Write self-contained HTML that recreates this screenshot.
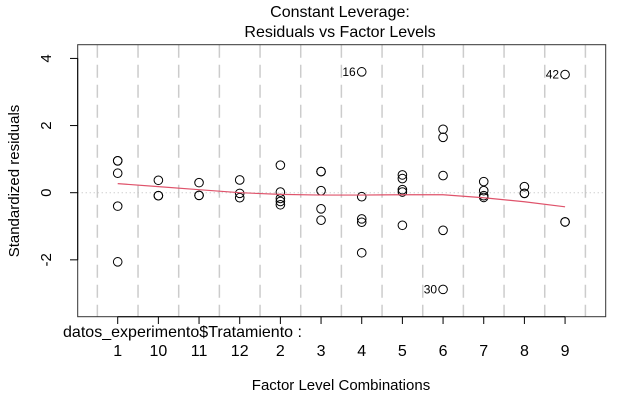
<!DOCTYPE html>
<html><head><meta charset="utf-8"><style>
html,body{margin:0;padding:0;background:#fff;}
svg{display:block;font-family:"Liberation Sans",Arial,sans-serif;}
</style></head><body>
<svg id="chart" width="618" height="406" viewBox="0 0 618 406">
<g id="grid"></g>
<g id="marks"></g>
<rect x="77.7" y="44.7" width="528" height="272" fill="none" stroke="#333" stroke-width="1"/>
<g id="axes"></g>
<text x="340" y="17" text-anchor="middle" font-size="16">Constant Leverage:</text>
<text x="340" y="37" text-anchor="middle" font-size="16">Residuals vs Factor Levels</text>
<text x="341" y="390" text-anchor="middle" font-size="15">Factor Level Combinations</text>
<text transform="translate(19,181) rotate(-90)" text-anchor="middle" font-size="15">Standardized residuals</text>
<text x="63" y="337" font-size="16" textLength="239">datos_experimento$Tratamiento :</text>
</svg>
<script>
const levels = ["1","10","11","12","2","3","4","5","6","7","8","9"];
const residuals = [
  [0.95,0.95,0.58,-0.4,-2.06],
  [0.37,-0.09,-0.09],
  [0.3,-0.08,-0.08],
  [0.38,-0.02,-0.15],
  [0.82,0.02,-0.17,-0.26,-0.36],
  [0.63,0.63,0.06,-0.48,-0.82],
  [3.6,-0.12,-0.78,-0.88,-1.79],
  [0.53,0.42,0.09,0.02,-0.97],
  [1.89,1.65,0.51,-1.12,-2.88],
  [0.33,0.06,-0.09,-0.14],
  [0.18,-0.02,-0.02],
  [3.52,-0.87,-0.87]
];
const smoother = [0.27,0.18,0.09,0.0,-0.05,-0.07,-0.07,-0.06,-0.06,-0.15,-0.27,-0.42];
const yTicks = [-2,0,2,4];
const outlierLabels = [{level:6,value:3.6,label:"16"},{level:8,value:-2.88,label:"30"},{level:11,value:3.52,label:"42"}];

const NS="http://www.w3.org/2000/svg";
const xs = i => 117.7 + i*40.67;
const ys = v => 192.7 - v*33.57;
function mk(tag, attrs, parent){const e=document.createElementNS(NS,tag);for(const k in attrs)e.setAttribute(k,attrs[k]);parent.appendChild(e);return e;}
const grid=document.getElementById('grid'), marks=document.getElementById('marks'), axes=document.getElementById('axes');

for(let i=0;i<=levels.length;i++){
  const x=xs(i-0.5);
  const l=mk('line',{x1:x,x2:x,y1:44.7,y2:316.7,stroke:'#cccccc','stroke-width':1.5,'stroke-dasharray':'13,7'},grid);
  
  
}
const z=mk('line',{x1:77.7,x2:605.7,y1:ys(0),y2:ys(0),stroke:'#bbbbbb','stroke-dasharray':'1,3'},grid);



residuals.forEach((arr,i)=>{arr.forEach(v=>{
  const c=mk('circle',{cx:xs(i),cy:ys(v),r:4.3,fill:'none',stroke:'#000','stroke-width':1},marks);
  
  
});});

const sm=mk('polyline',{points:smoother.map((v,i)=>xs(i)+','+ys(v)).join(' '),fill:'none',stroke:'#df536b','stroke-width':1.2},marks);



outlierLabels.forEach(o=>{
  const t=mk('text',{x:xs(o.level)-6,y:ys(o.value)+4,'text-anchor':'end','font-size':12},marks);
  t.textContent=o.label;
  
  
});

yTicks.forEach(v=>{
  const y=ys(v);
  const l=mk('line',{x1:70,x2:77.7,y1:y,y2:y,stroke:'#000'},axes);
  
  
  const t=mk('text',{transform:`translate(51,${y}) rotate(-90)`,'text-anchor':'middle','font-size':15},axes);
  t.textContent=String(v);
  
  
});
mk('line',{x1:77.7,x2:77.7,y1:ys(-2),y2:ys(4),stroke:'#000'},axes);
const xa=mk('line',{x1:xs(0),x2:xs(levels.length-1),y1:316.7,y2:316.7,stroke:'#000'},axes);


levels.forEach((lab,i)=>{
  const x=xs(i);
  const l=mk('line',{x1:x,x2:x,y1:316.7,y2:324,stroke:'#000'},axes);
  
  
  const t=mk('text',{x:x,y:356,'text-anchor':'middle','font-size':16},axes);
  t.textContent=lab;
  
  
});
</script>
</body></html>
